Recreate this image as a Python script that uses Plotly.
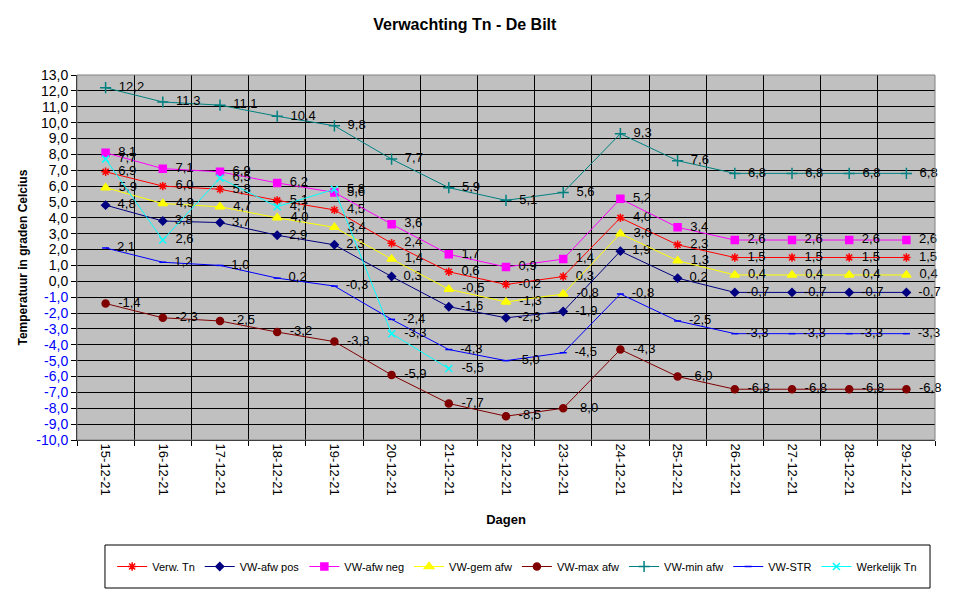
import plotly.graph_objects as go

dagen = ["15-12-21", "16-12-21", "17-12-21", "18-12-21", "19-12-21", "20-12-21",
         "21-12-21", "22-12-21", "23-12-21", "24-12-21", "25-12-21", "26-12-21",
         "27-12-21", "28-12-21", "29-12-21"]

verw_tn = [6.9, 6.0, 5.8, 5.1, 4.5, 2.4, 0.6, -0.2, 0.3, 4.0, 2.3, 1.5, 1.5, 1.5, 1.5]
vw_afw_pos = [4.8, 3.8, 3.7, 2.9, 2.3, 0.3, -1.6, -2.3, -1.9, 1.9, 0.2, -0.7, -0.7, -0.7, -0.7]
vw_afw_neg = [8.1, 7.1, 6.9, 6.2, 5.6, 3.6, 1.7, 0.9, 1.4, 5.2, 3.4, 2.6, 2.6, 2.6, 2.6]
vw_gem_afw = [5.9, 4.9, 4.7, 4.0, 3.4, 1.4, -0.5, -1.3, -0.8, 3.0, 1.3, 0.4, 0.4, 0.4, 0.4]
vw_max_afw = [-1.4, -2.3, -2.5, -3.2, -3.8, -5.9, -7.7, -8.5, -8.0, -4.3, -6.0, -6.8, -6.8, -6.8, -6.8]
vw_min_afw = [12.2, 11.3, 11.1, 10.4, 9.8, 7.7, 5.9, 5.1, 5.6, 9.3, 7.6, 6.8, 6.8, 6.8, 6.8]
vw_str = [2.1, 1.2, 1.0, 0.2, -0.3, -2.4, -4.3, -5.0, -4.5, -0.8, -2.5, -3.3, -3.3, -3.3, -3.3]
werkelijk_tn = [7.7, 2.6, 6.5, 4.7, 5.8, -3.3, -5.5, None, None, None, None, None, None, None, None]

y_ticks = list(range(-10, 14))

FONT = "Liberation Sans, Arial, sans-serif"


def fmt(v):
    return "" if v is None else f"{v:.1f}".replace(".", ",")


series = [
    ("Verw. Tn", verw_tn, "#FF0000", "asterisk-open", 7),
    ("VW-afw pos", vw_afw_pos, "#000080", "diamond", 6),
    ("VW-afw neg", vw_afw_neg, "#FF00FF", "square", 7),
    ("VW-gem afw", vw_gem_afw, "#FFFF00", "triangle-up", 8),
    ("VW-max afw", vw_max_afw, "#800000", "circle", 7),
    ("VW-min afw", vw_min_afw, "#008080", "cross-thin-open", 8),
    ("VW-STR", vw_str, "#0000FF", "line-ew-open", 5),
    ("Werkelijk Tn", werkelijk_tn, "#00FFFF", "x-thin-open", 7),
]

fig = go.Figure()
for name, vals, color, symbol, size in series:
    fig.add_trace(go.Scatter(
        x=dagen, y=vals, name=name, mode="lines+markers+text",
        line=dict(color=color, width=1),
        marker=dict(symbol=symbol, size=size, color=color,
                    line=dict(color=color, width=1.5)),
        text=["  " + fmt(v) for v in vals],
        textposition="middle right",
        textfont=dict(family=FONT, size=13, color="black"),
        connectgaps=False,
        cliponaxis=False,
    ))

ticktext = []
for v in y_ticks:
    s = f"{v:.1f}".replace(".", ",")
    if v < 0:
        s = f"<span style='color:#0000FF'>{s}</span>"
    ticktext.append(s)

fig.update_layout(
    width=974, height=598,
    margin=dict(l=69, r=47, t=67, b=166),
    paper_bgcolor="white",
    plot_bgcolor="#C0C0C0",
    font=dict(family=FONT, size=12, color="black"),
    title=dict(text="<b>Verwachting Tn - De Bilt</b>", x=0.469, xanchor="center",
               y=0.972, yanchor="middle", font=dict(size=16, family=FONT)),
    showlegend=True,
    legend=dict(orientation="h", x=0.513, xanchor="center", y=-0.3466, yanchor="middle",
                borderwidth=0, bgcolor="rgba(0,0,0,0)",
                font=dict(family=FONT, size=11), traceorder="normal",
                itemwidth=30),
)

fig.update_xaxes(
    type="category", tickson="boundaries", range=[-0.5, 14.5],
    tickangle=90, ticks="outside", ticklen=5, tickcolor="black",
    showgrid=True, gridcolor="black", gridwidth=1,
    showline=True, linecolor="black", linewidth=1, mirror=False,
    title=dict(text="<b>Dagen</b>", font=dict(size=13), standoff=20),
    tickfont=dict(size=13), automargin=False,
)
fig.update_yaxes(
    range=[-10, 13], tickvals=y_ticks, ticktext=ticktext,
    ticks="outside", ticklen=5, tickcolor="black",
    showgrid=True, gridcolor="black", gridwidth=1,
    zeroline=False,
    showline=True, linecolor="black", linewidth=1,
    tickfont=dict(size=14), automargin=False,
)

fig.add_annotation(text="<b>Temperatuur in graden Celcius</b>", textangle=-90,
                   xref="paper", yref="paper", x=-0.0641, y=0.5,
                   xanchor="center", yanchor="middle", showarrow=False,
                   font=dict(family=FONT, size=12))

# grey frame on top and right of the plot area
fig.add_shape(type="rect", xref="paper", yref="paper", x0=0, y0=0, x1=1, y1=1,
              line=dict(color="#808080", width=1), layer="above")
# legend box
fig.add_shape(type="rect", xref="paper", yref="paper", x0=0.0326, y0=-0.4055, x1=0.9942, y1=-0.2877,
              line=dict(color="black", width=1), fillcolor="white", layer="below")

fig.write_html("out.html")
